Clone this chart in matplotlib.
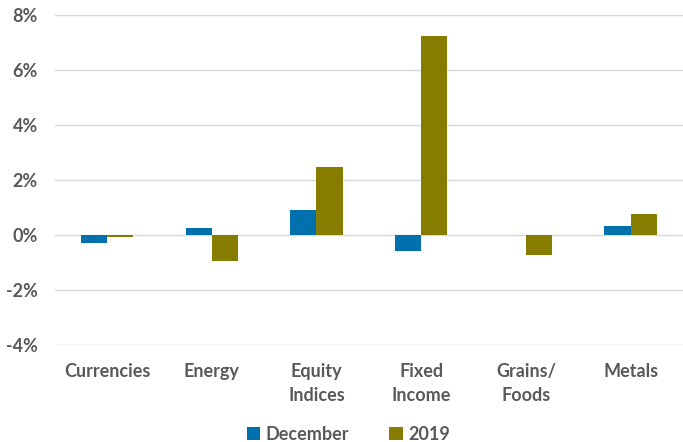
import numpy as np
import matplotlib.pyplot as plt
from matplotlib.ticker import FuncFormatter

categories = ['Currencies', 'Energy', 'Equity\nIndices', 'Fixed\nIncome', 'Grains/\nFoods', 'Metals']
december = [-0.30, 0.25, 0.91, -0.58, 0.0, 0.34]
year_2019 = [-0.05, -0.95, 2.46, 7.25, -0.73, 0.76]

blue = '#0071AC'
olive = '#857C00'
grey = '#595959'

plt.rcParams['font.family'] = ['Lato', 'DejaVu Sans']

fig = plt.figure(figsize=(6.83, 4.42), dpi=100)
ax = fig.add_axes([0.08, 0.219, 0.92, 0.747])

x = np.arange(len(categories))
w = 0.25
ax.bar(x - w/2, december, w, color=blue, label='December', linewidth=0)
ax.bar(x + w/2, year_2019, w, color=olive, label='2019', linewidth=0)

ax.set_ylim(-4, 8)
ax.set_xlim(-0.5, len(categories) - 0.5)
ax.set_yticks(np.arange(-4, 9, 2))
ax.yaxis.set_major_formatter(FuncFormatter(lambda v, p: '%d%%' % v))
ax.set_xticks(x)
ax.set_xticklabels(categories, linespacing=1.45)

ax.grid(axis='y', color='#D9D9D9', linewidth=1)
ax.set_axisbelow(True)
for s in ax.spines.values():
    s.set_visible(False)
ax.tick_params(length=0, labelsize=13, labelcolor=grey)
ax.tick_params(axis='x', pad=13)
ax.tick_params(axis='y', pad=12)
for lab in ax.get_xticklabels() + ax.get_yticklabels():
    lab.set_fontweight('bold')

fig.legend(loc='lower center', bbox_to_anchor=(0.51, -0.038), ncol=2, frameon=False,
           prop={'weight': 'bold', 'size': 13}, labelcolor=grey,
           handlelength=0.75, handleheight=0.75, handletextpad=0.3, columnspacing=2.2)

fig.savefig('out.png', dpi=100)
